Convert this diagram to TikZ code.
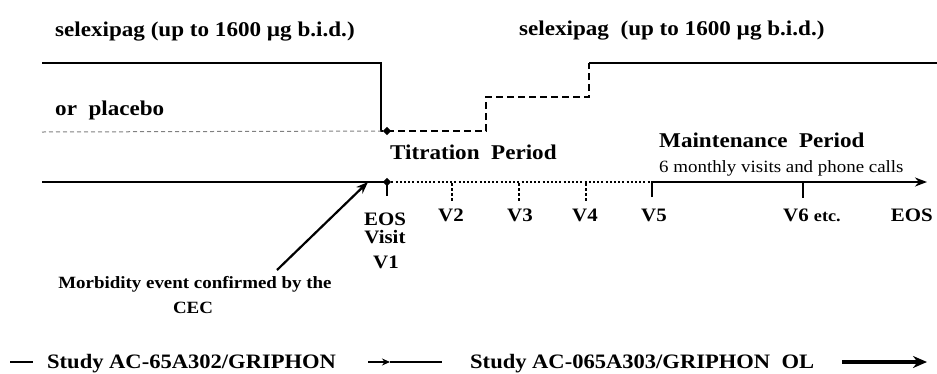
\documentclass[tikz,border=0pt]{standalone}
\usepackage{fontspec}
\setmainfont[FakeStretch=1.1]{Liberation Serif}
\usetikzlibrary{shapes.geometric,arrows.meta}
\begin{document}
\begin{tikzpicture}[x=1pt,y=-1pt,
  lbl/.style={font=\bfseries\fontsize{21}{25}\selectfont, inner sep=0pt, anchor=base west},
  leg/.style={font=\bfseries\fontsize{20.5}{25}\selectfont, inner sep=0pt, anchor=base west},
  vlbl/.style={font=\bfseries\fontsize{19}{23}\selectfont, inner sep=0pt, anchor=base},
  small/.style={font=\fontsize{17.2}{20}\selectfont, inner sep=0pt, anchor=base west},
  morb/.style={font=\bfseries\fontsize{17.2}{20}\selectfont, inner sep=0pt, anchor=base},
  solidline/.style={line width=2.3pt},
  thickdash/.style={line width=2.7pt, dash pattern=on 7pt off 4pt},
  thindash/.style={line width=1pt, gray, dash pattern=on 4pt off 3pt},
  dotline/.style={line width=2.4pt, dash pattern=on 2pt off 2.2pt},
  tickdash/.style={line width=2.2pt, dash pattern=on 3pt off 2pt},
  dmd/.style={diamond, fill=black, inner sep=0pt, minimum size=8.5pt}
]
\useasboundingbox (0,0) rectangle (937,373);

% top texts
\node[lbl] (sel1) at (55,36) {selexipag (up to 1600 µg b.i.d.)};
\node[lbl] (sel2) at (519,35) {selexipag\ \ (up to 1600 µg b.i.d.)};
\node[lbl] (plac) at (55,115) {or\ \ placebo};
\node[lbl] (titr) at (390,159) {Titration\ \ Period};
\node[lbl] (maint) at (659,147) {Maintenance\ \ Period};
\node[small] (monthly) at (659,172) {6 monthly visits and phone calls};

% dose lines
\coordinate (a0) at (42,63);
\coordinate (a1) at (381,63);
\coordinate (a2) at (381,131);
\node[dmd] (dA) at (387,131) {};
\coordinate (b0) at (42,132);
\coordinate (c1) at (486,131);
\coordinate (c2) at (486,97);
\coordinate (c3) at (589,97);
\coordinate (c4) at (589,63);
\coordinate (c5) at (937,63);
\draw[solidline] (a0) -- (a1) -- (a2) -- (dA.west);
\draw[thindash] (b0) -- (a2);
\draw[thickdash] (dA.center) -- (c1) -- (c2) -- (c3) -- (c4);
\draw[solidline] (c4) -- (c5);

% timeline
\coordinate (t0) at (42,182);
\node[dmd] (dB) at (387,182) {};
\coordinate (tv1) at (387,196);
\coordinate (tdot) at (650,182);
\coordinate (m0) at (652,197);
\coordinate (m1) at (652,182);
\coordinate (m2) at (927,182);
\coordinate (v6a) at (803,182);
\coordinate (v6b) at (803,198);
\draw[solidline] (t0) -- (dB.center);
\draw[line width=2.8pt] (dB.center) -- (tv1);
\draw[dotline] (dB.east) -- (tdot);
\draw[solidline, -{Stealth[length=12pt,width=9pt]}] (m0) -- (m1) -- (m2);
\draw[solidline] (v6a) -- (v6b);
\foreach \x/\n in {452/2,519/3,586/4}{
  \coordinate (tk\n a) at (\x,183);
  \coordinate (tk\n b) at (\x,202);
  \draw[tickdash] (tk\n a) -- (tk\n b);
}

% visit labels
\node[vlbl] (eos1) at (385,225) {EOS};
\node[vlbl] (visit) at (385,243) {Visit};
\node[vlbl] (v1) at (386,268) {V1};
\node[vlbl] (v2) at (451,221) {V2};
\node[vlbl] (v3) at (520,221) {V3};
\node[vlbl] (v4) at (585,221) {V4};
\node[vlbl] (v5) at (654,221) {V5};
\node[vlbl, anchor=base west] (v6) at (783,221) {V6 {\fontsize{16.5}{20}\selectfont etc.}};
\node[vlbl, anchor=base east] (eos2) at (933,221) {EOS};

% morbidity event
\node[morb] (morb1) at (195,288) {Morbidity event confirmed by the};
\node[morb] (morb2) at (193,313) {CEC};
\coordinate (arrS) at (277,270);
\coordinate (arrE) at (368,182);
\draw[line width=2.2pt, -{Stealth[length=12pt,width=9pt]}] (arrS) -- (arrE);

% legend
\coordinate (l0) at (10,362);
\coordinate (l1) at (33,362);
\draw[line width=2.8pt] (l0) -- (l1);
\node[leg] (study1) at (47,368) {Study AC-65A302/GRIPHON};
\coordinate (s0) at (368,362);
\coordinate (s1) at (390,362);
\coordinate (s2) at (442,362);
\draw[line width=1.8pt, -{Stealth[length=8pt,width=7pt]}] (s0) -- (s1);
\draw[line width=2.8pt] (s1) -- (s2);
\node[leg] (study2) at (470,368) {Study AC-065A303/GRIPHON\ \ OL};
\coordinate (r0) at (842,362);
\coordinate (r1) at (927,362);
\draw[line width=3.2pt, -{Stealth[length=14pt,width=12pt]}] (r0) -- (r1);
\end{tikzpicture}
\end{document}
